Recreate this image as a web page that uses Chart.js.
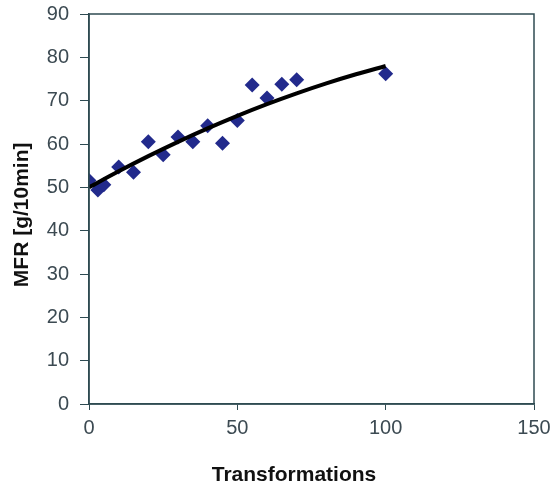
<!DOCTYPE html>
<html>
<head>
<meta charset="utf-8">
<script src="https://cdn.jsdelivr.net/npm/chart.js@4/dist/chart.umd.min.js"></script>
<style>
  html, body { margin: 0; padding: 0; background: #fff; overflow: hidden; }
  canvas { display: block; }
</style>
</head>
<body>
<canvas id="mfrChart" width="555" height="483"></canvas>
<script>
// measured points (transformations vs MFR)
const transformations = [0, 3, 5, 10, 15, 20, 25, 30, 35, 40, 45, 50, 55, 60, 65, 70, 100];
const mfrValues = [51.6, 49.4, 50.6, 54.7, 53.5, 60.5, 57.5, 61.6, 60.5, 64.2, 60.2, 65.4, 73.6, 70.6, 73.8, 74.8, 76.2];

// trend line
const trendX = [0, 10, 20, 30, 40, 50, 60, 70, 80, 90, 100];
const trendY = [50.0, 53.7, 57.2, 60.5, 63.6, 66.5, 69.2, 71.7, 74.0, 76.1, 78.0];

const xTicks = [0, 50, 100, 150];
const yTicks = [0, 10, 20, 30, 40, 50, 60, 70, 80, 90];

const axisColor = '#2f4b52';
const tickColor = '#3c4a52';

// box around plot area (Excel style)
const frame = {
    id: 'frame',
    afterDraw(chart) {
        const a = chart.chartArea;
        const c = chart.ctx;
        c.save();
        c.strokeStyle = axisColor;
        c.lineWidth = 1.5;
        c.strokeRect(a.left, a.top, a.right - a.left, a.bottom - a.top);
        c.restore();
    }
};

new Chart(document.getElementById('mfrChart'), {
    type: 'scatter',
    data: {
        datasets: [
            {
                type: 'line',
                data: trendX.map((x, i) => ({ x: x, y: trendY[i] })),
                borderColor: '#000',
                borderWidth: 4,
                pointRadius: 0,
                cubicInterpolationMode: 'monotone',
                fill: false
            },
            {
                data: transformations.map((x, i) => ({ x: x, y: mfrValues[i] })),
                pointStyle: 'rectRot',
                pointRadius: 7.5,
                backgroundColor: '#222a8c',
                borderColor: '#222a8c',
                borderWidth: 0
            }
        ]
    },
    options: {
        responsive: false,
        animation: false,
        layout: { padding: { top: 14, right: 21, left: 0, bottom: 0 } },
        plugins: {
            legend: { display: false },
            tooltip: { enabled: false }
        },
        scales: {
            x: {
                min: 0,
                max: 150,
                afterBuildTicks: (s) => { s.ticks = xTicks.map(v => ({ value: v })); },
                afterFit: (s) => { s.height = 79; s.paddingRight = 0; s.paddingLeft = 0; },
                grid: { display: true, drawOnChartArea: false, drawTicks: true, tickLength: 6, color: axisColor },
                border: { color: axisColor, width: 1.5 },
                ticks: { color: tickColor, font: { family: 'Liberation Sans', size: 20 }, padding: 6, maxRotation: 0 },
                title: {
                    display: true,
                    text: 'Transformations\u00a0\u00a0\u00a0\u00a0\u00a0\u00a0',
                    color: '#111',
                    font: { family: 'Liberation Sans', size: 21, weight: 'bold', lineHeight: 1 },
                    padding: { top: 0, bottom: -3 }
                }
            },
            y: {
                min: 0,
                max: 90,
                afterBuildTicks: (s) => { s.ticks = yTicks.map(v => ({ value: v })); },
                afterFit: (s) => { s.width = 89; s.paddingTop = 0; s.paddingBottom = 0; },
                grid: { display: true, drawOnChartArea: false, drawTicks: true, tickLength: 9, color: axisColor },
                border: { color: axisColor, width: 1.5 },
                ticks: { color: tickColor, font: { family: 'Liberation Sans', size: 20 }, padding: 11 },
                title: {
                    display: true,
                    text: 'MFR [g/10min]\u00a0\u00a0',
                    color: '#111',
                    font: { family: 'Liberation Sans', size: 21, weight: 'bold', lineHeight: 1.2 },
                    padding: { top: 10, bottom: 0 }
                }
            }
        }
    },
    plugins: [frame]
});
</script>
</body>
</html>
